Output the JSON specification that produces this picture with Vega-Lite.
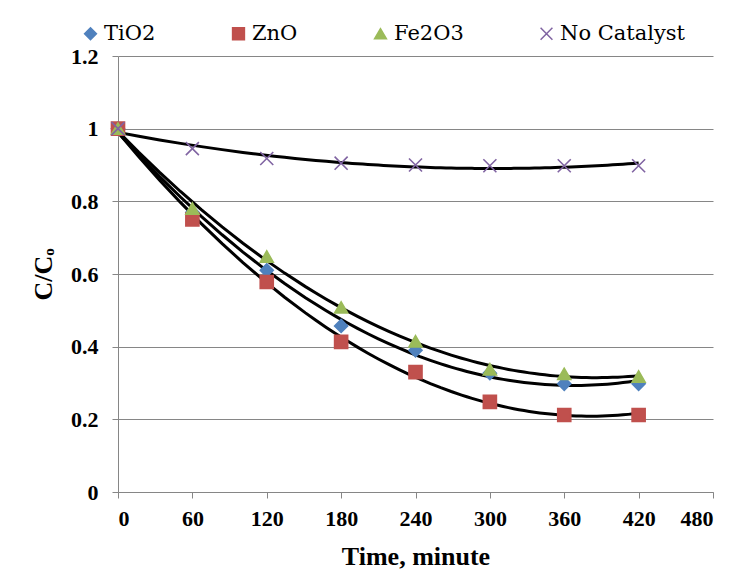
{
  "$schema": "https://vega.github.io/schema/vega-lite/v6.json",
  "autosize": {"type": "none"},
  "width": 595,
  "height": 436,
  "padding": {"left": 118, "top": 56, "right": 25, "bottom": 91},
  "background": "white",
  "config": {
    "font": "Liberation Serif",
    "view": {"stroke": null},
    "axis": {
      "domainColor": "#868686",
      "tickColor": "#868686",
      "gridColor": "#868686",
      "labelFont": "Liberation Serif",
      "labelFontWeight": "bold",
      "labelFontSize": 22,
      "labelColor": "black",
      "titleFont": "Liberation Serif",
      "titleFontWeight": "bold",
      "titleFontSize": 26,
      "titleColor": "black"
    }
  },
  "data": {
    "values": [
      {"t": 0, "c": 1.0, "series": "TiO2"},
      {"t": 60, "c": 0.77, "series": "TiO2"},
      {"t": 120, "c": 0.61, "series": "TiO2"},
      {"t": 180, "c": 0.457, "series": "TiO2"},
      {"t": 240, "c": 0.39, "series": "TiO2"},
      {"t": 300, "c": 0.327, "series": "TiO2"},
      {"t": 360, "c": 0.298, "series": "TiO2"},
      {"t": 420, "c": 0.298, "series": "TiO2"},
      {"t": 0, "c": 1.0, "series": "ZnO"},
      {"t": 60, "c": 0.75, "series": "ZnO"},
      {"t": 120, "c": 0.578, "series": "ZnO"},
      {"t": 180, "c": 0.413, "series": "ZnO"},
      {"t": 240, "c": 0.33, "series": "ZnO"},
      {"t": 300, "c": 0.248, "series": "ZnO"},
      {"t": 360, "c": 0.212, "series": "ZnO"},
      {"t": 420, "c": 0.212, "series": "ZnO"},
      {"t": 0, "c": 1.0, "series": "Fe2O3"},
      {"t": 60, "c": 0.78, "series": "Fe2O3"},
      {"t": 120, "c": 0.648, "series": "Fe2O3"},
      {"t": 180, "c": 0.508, "series": "Fe2O3"},
      {"t": 240, "c": 0.415, "series": "Fe2O3"},
      {"t": 300, "c": 0.338, "series": "Fe2O3"},
      {"t": 360, "c": 0.325, "series": "Fe2O3"},
      {"t": 420, "c": 0.318, "series": "Fe2O3"},
      {"t": 0, "c": 1.0, "series": "No Catalyst"},
      {"t": 60, "c": 0.945, "series": "No Catalyst"},
      {"t": 120, "c": 0.918, "series": "No Catalyst"},
      {"t": 180, "c": 0.905, "series": "No Catalyst"},
      {"t": 240, "c": 0.9, "series": "No Catalyst"},
      {"t": 300, "c": 0.898, "series": "No Catalyst"},
      {"t": 360, "c": 0.898, "series": "No Catalyst"},
      {"t": 420, "c": 0.898, "series": "No Catalyst"}
    ]
  },
  "layer": [
    {
      "transform": [
        {"regression": "c", "on": "t", "groupby": ["series"], "method": "poly", "order": 2, "extent": [0, 420]}
      ],
      "mark": {"type": "line", "color": "black", "strokeWidth": 3},
      "encoding": {
        "x": {"field": "t", "type": "quantitative"},
        "y": {"field": "c", "type": "quantitative"},
        "detail": {"field": "series"}
      }
    },
    {
      "mark": {"type": "point", "filled": true, "size": 170, "strokeWidth": 1.6, "opacity": 1},
      "encoding": {
        "x": {
          "field": "t", "type": "quantitative",
          "scale": {"domain": [0, 480], "nice": false},
          "axis": {"values": [0, 60, 120, 180, 240, 300, 360, 420, 480], "grid": false, "tickSize": 6, "labelPadding": 10, "title": "Time, minute", "titlePadding": 14}
        },
        "y": {
          "field": "c", "type": "quantitative",
          "scale": {"domain": [0, 1.2], "nice": false},
          "axis": {"values": [0, 0.2, 0.4, 0.6, 0.8, 1.0, 1.2], "format": ".1~f", "grid": true, "tickSize": 6, "labelPadding": 14, "title": "C/Cₒ", "titlePadding": 14}
        },
        "color": {
          "field": "series", "type": "nominal",
          "scale": {"domain": ["TiO2", "ZnO", "Fe2O3", "No Catalyst"], "range": ["#4F81BD", "#C0504D", "#9BBB59", "#8064A2"]},
          "legend": {
            "title": null, "orient": "none", "legendX": -38, "legendY": -33, "direction": "horizontal", "columns": 4,
            "columnPadding": 72, "labelFont": "DejaVu Serif", "labelFontSize": 21, "labelColor": "black", "symbolSize": 140, "labelOffset": 3
          }
        },
        "stroke": {"field": "series", "type": "nominal", "scale": {"domain": ["TiO2", "ZnO", "Fe2O3", "No Catalyst"], "range": ["#4F81BD", "#C0504D", "#9BBB59", "#8064A2"]}, "legend": null},
        "shape": {
          "field": "series", "type": "nominal",
          "scale": {"domain": ["TiO2", "ZnO", "Fe2O3", "No Catalyst"], "range": ["diamond", "square", "triangle-up", "M-1,-1L1,1M-1,1L1,-1"]},
          "legend": null
        }
      }
    }
  ]
}
